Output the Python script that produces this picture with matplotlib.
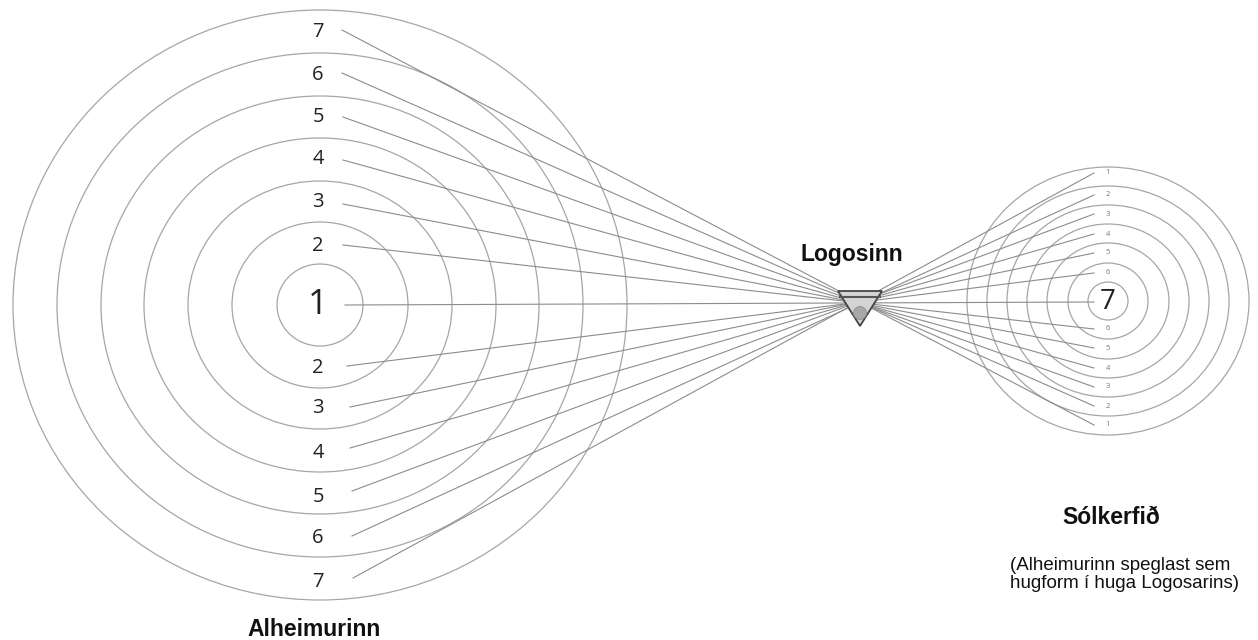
import matplotlib
matplotlib.use("Agg")
import matplotlib.pyplot as plt
from matplotlib.patches import Ellipse, Polygon, Circle

# left system (Alheimurinn): ring radii and label rows, in picture pixels
left_center = (320, 305)
left_rx = [43, 88, 132, 176, 219, 263, 307]
left_ry = [41, 83, 124, 167, 209, 252, 295]
left_labels = ["7", "6", "5", "4", "3", "2", "1", "2", "3", "4", "5", "6", "7"]
left_label_y = [32, 75, 117, 159, 202, 246, 305, 368, 408, 453, 497, 538, 582]
left_line_x = [342, 342, 343, 343, 343, 343, 345, 347, 350, 350, 352, 352, 353]
left_line_y = [30, 73, 117, 160, 204, 245, 305, 366, 407, 448, 491, 536, 578]

# right system (Sólkerfið)
right_center = (1108, 301)
right_rx = [20, 40, 61, 81, 101, 121, 141]
right_ry = [19, 38, 58, 77, 96, 115, 134]
right_labels = ["1", "2", "3", "4", "5", "6", "7", "6", "5", "4", "3", "2", "1"]
right_label_y = [173, 195, 214, 234, 253, 273, 302, 329, 348, 368, 387, 406, 425]
right_line_x = 1094

# Logosinn triangle
tri_x = [838, 882, 860]
tri_y = [291, 291, 326]

fig = plt.figure(figsize=(12.58, 6.40), dpi=100)
ax = fig.add_axes([0, 0, 1, 1])
ax.set_xlim(0, 1258)
ax.set_ylim(640, 0)
ax.axis("off")

ring_col = "#a6a6a6"
line_col = "#8c8c8c"

for rx, ry in zip(left_rx, left_ry):
    ax.add_patch(Ellipse(left_center, 2 * rx, 2 * ry, fill=False, ec=ring_col, lw=0.9))
for rx, ry in zip(right_rx, right_ry):
    ax.add_patch(Ellipse(right_center, 2 * rx, 2 * ry, fill=False, ec=ring_col, lw=0.9))

# straight rays through the Logos point: left row i joins right row (12 - i)
n = len(left_line_y)
for i in range(n):
    ax.plot([left_line_x[i], right_line_x], [left_line_y[i], right_label_y[n - 1 - i]],
            color=line_col, lw=0.8)

for lab, y in zip(left_labels, left_label_y):
    big = lab == "1"
    ax.text(left_center[0] - 2, y, lab, ha="center", va="center",
            fontsize=25 if big else 14.5, family="Open Sans", color="#222222")

for lab, y in zip(right_labels, right_label_y):
    big = lab == "7"
    ax.text(right_center[0], y, lab, ha="center", va="center",
            fontsize=20 if big else 5.5, family="Open Sans",
            color="#222222" if big else "#777777")

ax.add_patch(Polygon(list(zip(tri_x, tri_y)), closed=True, fc="#d4d4d4", ec="#444444", lw=1.3, zorder=5))
ax.add_patch(Circle((860, 313), 6.5, fc="#a8a8a8", ec="#888888", lw=0.5, zorder=6))
ax.plot([840, 880], [297, 297], color="#555555", lw=1.5, zorder=6)

bold = dict(family="Liberation Sans", fontweight="bold", color="#111111")
ax.text(852, 255, "Logosinn", ha="center", va="center", fontsize=16.5, **bold)
ax.text(314, 629, "Alheimurinn", ha="center", va="center", fontsize=16.5, **bold)
ax.text(1111, 517, "Sólkerfið", ha="center", va="center", fontsize=16.5, **bold)
ax.text(1010, 566, "(Alheimurinn speglast sem", ha="left", va="center",
        fontsize=13.5, family="Liberation Sans", color="#111111")
ax.text(1010, 584, "hugform í huga Logosarins)", ha="left", va="center",
        fontsize=13.5, family="Liberation Sans", color="#111111")

fig.savefig("out.png", dpi=100)
